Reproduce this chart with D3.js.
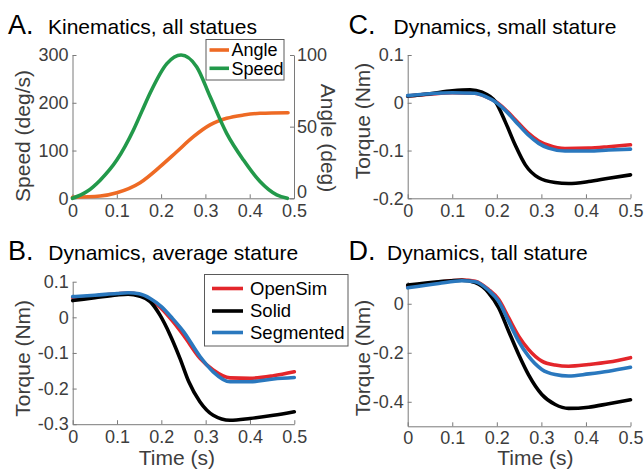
<!DOCTYPE html>
<html><head><meta charset="utf-8">
<script src="https://cdn.jsdelivr.net/npm/d3@7"></script>
<style>
html,body{margin:0;padding:0;background:#fff;}
svg{display:block;font-family:"Liberation Sans",Arial,Helvetica,sans-serif;}
</style></head><body>
<svg id="chart" width="644" height="470"></svg>
<script>
// ---------- DATA ----------
const timeTicks = [0, 0.1, 0.2, 0.3, 0.4, 0.5];
const speedTicks = [0, 100, 200, 300];
const angleTicks = [0, 50, 100];
const torqueTicksB = [0.1, 0, -0.1, -0.2, -0.3];
const torqueTicksC = [0.1, 0, -0.1, -0.2];
const torqueTicksD = [0, -0.2, -0.4];

// Panel A
const speedT = [0, 0.0325, 0.0625, 0.100, 0.1376, 0.1565, 0.175, 0.213, 0.245, 0.2805, 0.3105, 0.348, 0.386, 0.4233, 0.461, 0.485];
const speedV = [0, 14, 38, 80, 143, 182, 220, 282, 300, 275, 213, 136, 80, 35, 7, 0];
const angleT = [0, 0.0625, 0.1, 0.1526, 0.1977, 0.2353, 0.273, 0.3105, 0.348, 0.386, 0.4233, 0.4865];
const angleV = [0.7, 1.6, 3.9, 10.9, 22.1, 32.5, 43, 51.2, 55.8, 58.1, 59.3, 59.7];

// Panel B (average stature)
const solidBT = [0, 0.05, 0.1, 0.125, 0.15, 0.175, 0.197, 0.22, 0.242, 0.262, 0.287, 0.317, 0.355, 0.4, 0.453, 0.5];
const solidBV = [0.047, 0.055, 0.063, 0.065, 0.06, 0.044, 0.006, -0.05, -0.115, -0.181, -0.237, -0.275, -0.289, -0.284, -0.275, -0.265];
const simBT = [0, 0.05, 0.1, 0.125, 0.15, 0.175, 0.2, 0.225, 0.25, 0.2873, 0.317, 0.355, 0.4, 0.453, 0.5];
const openSimBV = [0.055, 0.06, 0.066, 0.068, 0.064, 0.05, 0.025, -0.01, -0.05, -0.115, -0.148, -0.17, -0.171, -0.164, -0.153];
const segmentedBV = [0.058, 0.062, 0.067, 0.069, 0.066, 0.053, 0.03, -0.003, -0.04, -0.11, -0.153, -0.181, -0.181, -0.173, -0.169];

// Panel C (small stature)
const solidCT = [0, 0.05, 0.1, 0.14, 0.167, 0.197, 0.219, 0.241, 0.264, 0.294, 0.331, 0.361, 0.406, 0.451, 0.5];
const solidCV = [0.014, 0.019, 0.025, 0.027, 0.022, 0.002, -0.04, -0.088, -0.13, -0.157, -0.167, -0.169, -0.165, -0.158, -0.151];
const simCT = [0, 0.05, 0.1, 0.15, 0.175, 0.1965, 0.219, 0.241, 0.27, 0.294, 0.316, 0.353, 0.406, 0.451, 0.5];
const openSimCV = [0.014, 0.018, 0.021, 0.02, 0.013, 0.003, -0.014, -0.035, -0.063, -0.08, -0.089, -0.096, -0.095, -0.092, -0.088];
const segmentedCV = [0.015, 0.019, 0.021, 0.02, 0.013, 0.002, -0.016, -0.038, -0.067, -0.085, -0.095, -0.101, -0.101, -0.099, -0.097];

// Panel D (tall stature)
const timeD = [0, 0.0695, 0.1217, 0.1516, 0.1815, 0.204, 0.2265, 0.249, 0.271, 0.301, 0.331, 0.361, 0.406, 0.451, 0.5];
const solidDV = [0.076, 0.09, 0.096, 0.086, 0.045, -0.016, -0.112, -0.207, -0.289, -0.37, -0.411, -0.427, -0.422, -0.408, -0.392];
const openSimDV = [0.07, 0.088, 0.097, 0.092, 0.058, 0.018, -0.057, -0.132, -0.186, -0.234, -0.25, -0.255, -0.248, -0.238, -0.22];
const segmentedDV = [0.065, 0.083, 0.094, 0.09, 0.055, 0.01, -0.071, -0.153, -0.214, -0.268, -0.289, -0.295, -0.286, -0.275, -0.259];

const legendA = ["Angle", "Speed"];
const legendB = ["OpenSim", "Solid", "Segmented"];

// ---------- STYLE ----------
const C_ANGLE = "#EE6A24", C_SPEED = "#22994A";
const C_SIM = "#E3262B", C_SOLID = "#000000", C_SEG = "#2A78BE";
const AXIS = "#7a7a7a", TXT = "#3d3d3d";
const LW = 3.6;

const svg = d3.select("#chart");
const zip = (t, v) => t.map((d, i) => [d, v[i]]);
const fmt = d => String(+(+d).toFixed(2));

function styleAxis(g) {
  g.select(".domain").attr("stroke", AXIS).attr("stroke-width", 1);
  g.selectAll(".tick line").attr("stroke", AXIS).attr("stroke-width", 1);
  g.selectAll(".tick text").attr("fill", TXT).attr("font-size", 18)
    .attr("font-family", "Liberation Sans, Arial, sans-serif");
}

function xAxis(x, yPix, pad) {
  const g = svg.append("g").attr("transform", `translate(0,${yPix})`)
    .call(d3.axisBottom(x).tickValues(timeTicks).tickFormat(fmt)
      .tickSizeInner(-4).tickSizeOuter(0).tickPadding(pad));
  styleAxis(g);
  g.selectAll(".tick text").attr("dy", "0.78em");
  return g;
}
function yAxisLeft(y, xPix, ticks) {
  const g = svg.append("g").attr("transform", `translate(${xPix},0)`)
    .call(d3.axisLeft(y).tickValues(ticks).tickFormat(fmt)
      .tickSizeInner(-4).tickSizeOuter(0).tickPadding(4));
  styleAxis(g);
  return g;
}
function drawLine(x, y, data, color) {
  svg.append("path").datum(data)
    .attr("fill", "none").attr("stroke", color).attr("stroke-width", LW)
    .attr("stroke-linejoin", "round").attr("stroke-linecap", "round")
    .attr("d", d3.line().x(d => x(d[0])).y(d => y(d[1])).curve(d3.curveMonotoneX));
}
function title(letterX, textX, baseY, letter, text) {
  svg.append("text").attr("x", letterX).attr("y", baseY).attr("font-size", 27)
    .attr("fill", "#000").text(letter);
  svg.append("text").attr("x", textX).attr("y", baseY).attr("font-size", 21)
    .attr("fill", "#000").text(text);
}
function yLabel(xPix, yCenter, text, rot) {
  svg.append("text").attr("transform", `translate(${xPix},${yCenter}) rotate(${rot})`)
    .attr("text-anchor", "middle").attr("font-size", 21).attr("fill", TXT).text(text);
}
function xLabel(xCenter, yPix, text) {
  svg.append("text").attr("x", xCenter).attr("y", yPix).attr("text-anchor", "middle")
    .attr("font-size", 21).attr("fill", TXT).text(text);
}

// ---------- PANEL A ----------
{
  const x = d3.scaleLinear().domain([0, 0.5]).range([72.5, 294]);
  const yS = d3.scaleLinear().domain([0, 300]).range([198.3, 55]);
  const yA = d3.scaleLinear().domain([0, 100]).range([198.3, 55]);
  xAxis(x, 198.3, 5);
  yAxisLeft(yS, 72.5, speedTicks);
  const gr = svg.append("g").attr("transform", `translate(294,0)`)
    .call(d3.axisRight(yA).tickValues(angleTicks).tickFormat(fmt)
      .tickSizeInner(-4).tickSizeOuter(0).tickPadding(3));
  styleAxis(gr);
  // right-axis "0" label sits slightly above its tick in the reference
  gr.selectAll(".tick text").filter(d => d === 0).attr("dy", "-0.05em");
  drawLine(x, yA, zip(angleT, angleV), C_ANGLE);
  drawLine(x, yS, zip(speedT, speedV), C_SPEED);
  title(8, 48, 33.5, "A.", "Kinematics, all statues");
  yLabel(29.5, 136, "Speed (deg/s)", -90);
  yLabel(321, 138, "Angle (deg)", 90);
  // legend
  const lg = svg.append("g");
  lg.append("rect").attr("x", 206).attr("y", 39.5).attr("width", 78).attr("height", 40.5)
    .attr("fill", "#fff").attr("stroke", "#5a5a5a").attr("stroke-width", 1);
  const cols = [C_ANGLE, C_SPEED];
  legendA.forEach((name, i) => {
    const cy = 50 + i * 18.3;
    lg.append("line").attr("x1", 209.5).attr("x2", 229).attr("y1", cy).attr("y2", cy)
      .attr("stroke", cols[i]).attr("stroke-width", LW);
    lg.append("text").attr("x", 231.5).attr("y", cy).attr("dy", "0.35em")
      .attr("font-size", 18).attr("fill", "#000").text(name);
  });
}

// ---------- PANEL C ----------
{
  const x = d3.scaleLinear().domain([0, 0.5]).range([407.7, 630.5]);
  const y = d3.scaleLinear().domain([-0.2, 0.1]).range([198.3, 55]);
  xAxis(x, 198.3, 5);
  yAxisLeft(y, 407.7, torqueTicksC);
  drawLine(x, y, zip(simCT, openSimCV), C_SIM);
  drawLine(x, y, zip(solidCT, solidCV), C_SOLID);
  drawLine(x, y, zip(simCT, segmentedCV), C_SEG);
  title(348.5, 393.5, 33.5, "C.", "Dynamics, small stature");
  yLabel(370, 121, "Torque (Nm)", -90);
}

// ---------- PANEL B ----------
{
  const x = d3.scaleLinear().domain([0, 0.5]).range([72.7, 294.3]);
  const y = d3.scaleLinear().domain([-0.3, 0.1]).range([424.2, 281.7]);
  xAxis(x, 424.2, 5);
  yAxisLeft(y, 72.7, torqueTicksB);
  drawLine(x, y, zip(simBT, openSimBV), C_SIM);
  drawLine(x, y, zip(solidBT, solidBV), C_SOLID);
  drawLine(x, y, zip(simBT, segmentedBV), C_SEG);
  title(8, 48.3, 260, "B.", "Dynamics, average stature");
  yLabel(29.5, 358.3, "Torque (Nm)", -90);
  xLabel(176.8, 465, "Time (s)");
}

// ---------- PANEL D ----------
{
  const x = d3.scaleLinear().domain([0, 0.5]).range([407.7, 630.5]);
  const y = d3.scaleLinear().domain([-0.5, 0.09]).range([426.3, 281.7]);
  xAxis(x, 426.3, 3.5);
  yAxisLeft(y, 407.7, torqueTicksD);
  drawLine(x, y, zip(timeD, openSimDV), C_SIM);
  drawLine(x, y, zip(timeD, solidDV), C_SOLID);
  drawLine(x, y, zip(timeD, segmentedDV), C_SEG);
  title(348.5, 387, 260, "D.", "Dynamics, tall stature");
  yLabel(370, 358, "Torque (Nm)", -90);
  xLabel(535.3, 465, "Time (s)");
}

// ---------- LEGEND B (drawn last, on top) ----------
{
  const lg = svg.append("g");
  lg.append("rect").attr("x", 204.5).attr("y", 274.5).attr("width", 143.5).attr("height", 71.5)
    .attr("fill", "#fff").attr("stroke", "#5a5a5a").attr("stroke-width", 1);
  const cols = [C_SIM, C_SOLID, C_SEG];
  const rows = [288.5, 311, 332.5];
  legendB.forEach((name, i) => {
    lg.append("line").attr("x1", 212).attr("x2", 243).attr("y1", rows[i]).attr("y2", rows[i])
      .attr("stroke", cols[i]).attr("stroke-width", LW);
    lg.append("text").attr("x", 250).attr("y", rows[i]).attr("dy", "0.35em")
      .attr("font-size", 18.5).attr("fill", "#000").text(name);
  });
}
</script>
</body></html>
